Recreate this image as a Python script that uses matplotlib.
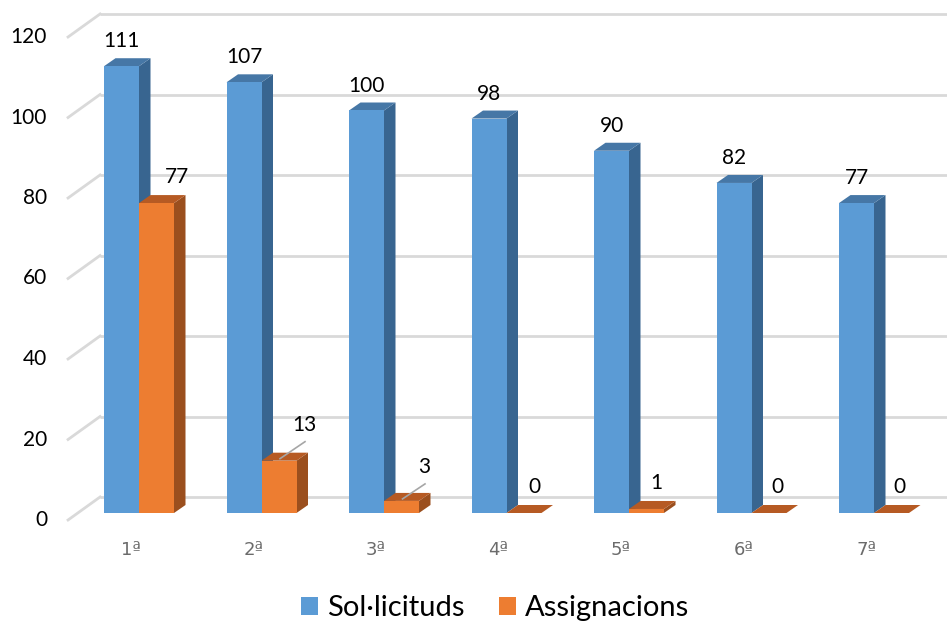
import numpy as np
import matplotlib
matplotlib.use("Agg")
import matplotlib.pyplot as plt
from matplotlib.patches import Polygon, Rectangle, Patch

# data
categories = ["1ª", "2ª", "3ª", "4ª", "5ª", "6ª", "7ª"]
solicituds = [111, 107, 100, 98, 90, 82, 77]
assignacions = [77, 13, 3, 0, 1, 0, 0]
y_ticks = [0, 20, 40, 60, 80, 100, 120]
series_names = ["Sol·licituds", "Assignacions"]

# colours (front, top, side)
blue = ("#5B9BD5", "#4677A6", "#386590")
orange = ("#ED7D31", "#B65A23", "#9B4F1E")
grid_c = "#D9D9D9"

plt.rcParams["font.family"] = ["Lato", "DejaVu Sans"]

# pixel scale of the front plane (figure is 947x631 at dpi 100)
px_cat = 122.5   # pixels per category
px_val = 4.025   # pixels per value unit
x0_px, y0_px = 139, 513   # where category 0 / value 0 sit


def cx(px):
    return px / px_cat


def vy(px):
    return px / px_val


fig = plt.figure(figsize=(9.47, 6.31), dpi=100)
ax = fig.add_axes([0, 0, 1, 1])
ax.set_xlim(-x0_px / px_cat, (947 - x0_px) / px_cat)
ax.set_ylim(-(631 - y0_px) / px_val, y0_px / px_val)
ax.axis("off")

# offsets of back wall / front floor edge relative to the bar plane
back_dx, back_dy = cx(22.3), vy(16)
front_dx, front_dy = cx(-9.7), vy(-7)
bar_dx, bar_dy = cx(11.5), vy(8)
bw = cx(35)
wall_left = -0.5
wall_right = len(categories) - 0.5

# back wall gridlines and left diagonals
for t in y_ticks:
    ax.plot([wall_left + back_dx, wall_right + back_dx + 1], [t + back_dy, t + back_dy],
            color=grid_c, lw=2.0, zorder=1, solid_capstyle="butt")
    ax.plot([wall_left + front_dx, wall_left + back_dx], [t + front_dy, t + back_dy],
            color=grid_c, lw=2.0, zorder=1)
    ax.text(wall_left + front_dx + cx(-21), t + front_dy, str(t), ha="right", va="center",
            fontsize=15, color="#000000")


def bar3d(x0, v, cols, z):
    x1 = x0 + bw
    side = Polygon([(x1, 0), (x1 + bar_dx, bar_dy), (x1 + bar_dx, v + bar_dy), (x1, v)],
                   closed=True, facecolor=cols[2], edgecolor="none", zorder=z)
    top = Polygon([(x0, v), (x1, v), (x1 + bar_dx, v + bar_dy), (x0 + bar_dx, v + bar_dy)],
                  closed=True, facecolor=cols[1], edgecolor="none", zorder=z)
    ax.add_patch(side)
    ax.add_patch(top)
    if v > 0:
        ax.add_patch(Rectangle((x0, 0), bw, v, facecolor=cols[0], edgecolor="none", zorder=z))


# orange label shifts (pixels) and which ones get a leader line
lab_dx_px = [20.5, 25, 22.5, 10, 9.5, 8.5, 7.5]
lab_dy_px = [26, 36, 34, 26, 26, 26, 26]
leader = [False, True, True, False, False, False, False]

for i, (s, a) in enumerate(zip(solicituds, assignacions)):
    z = 2 + i * 2
    bar3d(i - bw, s, blue, z)
    bar3d(i, a, orange, z + 1)
    ax.text(i - bw / 2, s + vy(25), str(s), ha="center", va="center", fontsize=15)
    lx = i + bw / 2 + cx(lab_dx_px[i])
    ly = a + vy(lab_dy_px[i])
    ax.text(lx, ly, str(a), ha="center", va="center", fontsize=15, zorder=30)
    if leader[i]:
        ax.plot([i + bw / 2 + cx(1), lx + cx(1)], [a + vy(2), ly - vy(17)],
                color="#A6A6A6", lw=1.2, zorder=30)
    ax.text(i - cx(8), vy(-37), categories[i], ha="center", va="center",
            fontsize=13, color="#6B6B6B", family="DejaVu Sans")

handles = [Patch(facecolor=blue[0], edgecolor="none"), Patch(facecolor=orange[0], edgecolor="none")]
fig.legend(handles, series_names, loc="center", bbox_to_anchor=(495 / 947, 23 / 631), ncol=2,
           frameon=False, fontsize=21, handlelength=0.58, handleheight=0.58,
           handletextpad=0.31, columnspacing=1.2)

fig.savefig("out.png", dpi=100)
